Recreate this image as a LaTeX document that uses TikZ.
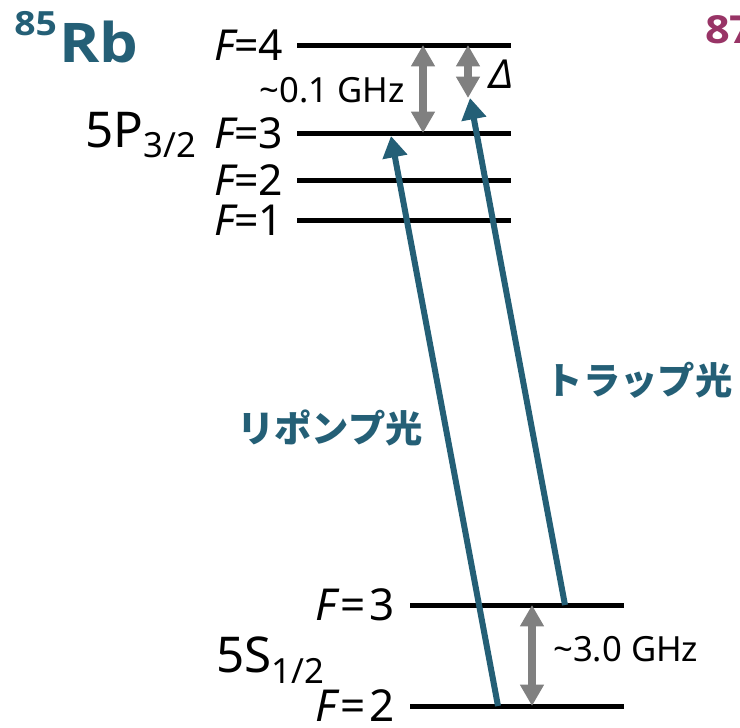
\documentclass[tikz,border=0pt]{standalone}
\usepackage{fontspec}
\setmainfont{Noto Sans}
\newfontfamily\titlefont{Open Sans}[FakeStretch=1.12]
\newfontfamily\jpfont{Noto Sans CJK JP}
\usetikzlibrary{arrows.meta,positioning}

\definecolor{rbteal}{RGB}{36,95,118}
\definecolor{rbpurple}{RGB}{152,52,102}
\definecolor{gapgray}{RGB}{128,128,128}

\begin{document}
\begin{tikzpicture}[
    x=0.75pt, y=-0.75pt,
    level/.style={line width=3.75pt, black},
    laser/.style={-{Triangle[length=16pt,width=18pt]}, line width=4.5pt, rbteal},
    gap/.style={{Triangle[length=16pt,width=17pt]}-{Triangle[length=16pt,width=17pt]},
        line width=6pt, gapgray},
    flabel/.style={inner sep=0pt, font=\fontsize{32}{36}\selectfont},
    statelabel/.style={anchor=base west, inner sep=0pt, font=\fontsize{37}{40}\selectfont},
    gaplabel/.style={inner sep=0pt, font=\fontsize{26}{30}\selectfont},
    lightlabel/.style={inner sep=0pt, rbteal, font=\jpfont\bfseries\fontsize{28}{32}\selectfont},
    isotope/.style={anchor=base west, inner sep=0pt, font=\titlefont\bfseries}
]
\useasboundingbox (0,0) rectangle (740,728);

% Coordinates
\coordinate (p4w) at (297,45);  \coordinate (p4e) at (511,45);
\coordinate (p3w) at (297,133); \coordinate (p3e) at (511,133);
\coordinate (p2w) at (297,180); \coordinate (p2e) at (511,180);
\coordinate (p1w) at (297,220); \coordinate (p1e) at (511,220);
\coordinate (s3w) at (410,605); \coordinate (s3e) at (624,605);
\coordinate (s2w) at (410,706); \coordinate (s2e) at (624,706);

% Hyperfine levels
\draw[level] (p4w) -- (p4e);
\draw[level] (p3w) -- (p3e);
\draw[level] (p2w) -- (p2e);
\draw[level] (p1w) -- (p1e);
\draw[level] (s3w) -- (s3e);
\draw[level] (s2w) -- (s2e);

\node[flabel, left=10pt of p4w] (lp4) {{\itshape F}=4};
\node[flabel, left=10pt of p3w] (lp3) {{\itshape F}=3};
\node[flabel, left=10pt of p2w] (lp2) {{\itshape F}=2};
\node[flabel, left=10pt of p1w] (lp1) {{\itshape F}=1};
\node[flabel, left=11pt of s3w, font=\fontsize{33}{36}\selectfont] (ls3) {{\itshape F}\kern3pt=\kern3pt3};
\node[flabel, left=11pt of s2w, font=\fontsize{33}{36}\selectfont] (ls2) {{\itshape F}\kern3pt=\kern3pt2};

\node[statelabel] (p32) at (85,147)
    {5P\raisebox{-7.5pt}{\fontsize{26}{28}\selectfont 3/2}};
\node[statelabel] (s12) at (216,672)
    {5S\raisebox{-8.5pt}{\fontsize{26}{28}\selectfont 1/2}};

% Isotope titles
\node[isotope, rbteal] (rb85) at (14,62)
    {\raisebox{20pt}{\fontsize{25}{28}\selectfont 85}\kern2pt\fontsize{41}{44}\selectfont Rb};
\node[isotope, rbpurple, font=\titlefont\bfseries\fontsize{29}{32}\selectfont]
    (rb87) at (705,43) {87};

% Splittings
\coordinate (g1t) at (423,45);  \coordinate (g1b) at (423,133);
\coordinate (dt)  at (468,45);  \coordinate (db)  at (468,98);
\coordinate (g3t) at (532,605); \coordinate (g3b) at (532,706);
\draw[gap] (g1t) -- (g1b);
\draw[gap] (dt) -- (db);
\draw[gap] (g3t) -- (g3b);
\node[gaplabel, anchor=base east] (lg1) at (405,102) {\textasciitilde 0.1 GHz};
\node[gaplabel, anchor=base west] (lg3) at (553,661) {\textasciitilde 3.0 GHz};
\node[inner sep=0pt, font=\itshape\fontsize{30}{32}\selectfont] (ld) at (501,74) {Δ};

% Lasers
\coordinate (rp0) at (498,706); \coordinate (rp1) at (391,136);
\coordinate (tr0) at (565,605); \coordinate (tr1) at (470,98);
\draw[laser] (rp0) -- (rp1);
\draw[laser] (tr0) -- (tr1);
\node[lightlabel] (lrp) at (330,428) {リポンプ光};
\node[lightlabel] (ltr) at (639,380) {トラップ光};

\end{tikzpicture}
\end{document}
